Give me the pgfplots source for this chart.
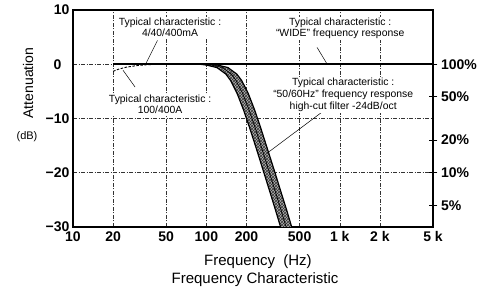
\documentclass[border=0pt]{standalone}
\usepackage{fontspec}
\setmainfont{Liberation Sans}
\usepackage{pgfplots}
\pgfplotsset{compat=1.18}
\usetikzlibrary{patterns}
\begin{document}
\begin{tikzpicture}[x=1pt,y=1pt]
\useasboundingbox (-73,-64) rectangle (414,227);
\begin{axis}[
  at={(0,0)}, anchor=south west,
  scale only axis, width=360pt, height=217pt,
  xmode=log, xmin=10, xmax=5000, ymin=-30, ymax=10,
  xtick={10,20,50,100,200,500,1000,2000,5000},
  xticklabels={10,20,50,100,200,500,1 k,2 k,5 k},
  ytick={-30,-20,-10,0,10},
  yticklabels={−30,−20,−10,0\kern8pt,10},
  major tick length=0pt, minor tick length=0pt,
  grid=major,
  grid style={black!80, line width=0.5pt, dash pattern=on 4pt off 1.5pt on 1pt off 1.5pt},
  axis line style={line width=1.2pt},
  ticklabel style={font=\fontsize{14}{15}\selectfont\bfseries},
  /pgf/number format/assume math mode=true,
  xticklabel style={yshift=-1pt},
  clip=true,
]
% band fill: lower edge then upper edge reversed
\addplot[fill=black!30, draw=none] coordinates {(90,0) (100,-0.15) (120,-0.61) (140,-1.81) (152,-3.01) (170,-5.38) (190,-8.43) (210,-11.55) (240,-15.98) (270,-20) (300,-23.6) (330,-26.9) (360,-30) (375,-31.5) (455,-31.5) (436,-30) (400,-26.9) (363,-23.6) (327,-20) (290,-15.98) (254,-11.55) (230,-8.43) (206,-5.38) (184,-3.01) (169,-1.81) (145,-0.61) (121,-0.15) (100,0)} -- cycle;
\addplot[pattern=crosshatch, pattern color=black!80, draw=none] coordinates {(90,0) (100,-0.15) (120,-0.61) (140,-1.81) (152,-3.01) (170,-5.38) (190,-8.43) (210,-11.55) (240,-15.98) (270,-20) (300,-23.6) (330,-26.9) (360,-30) (375,-31.5) (455,-31.5) (436,-30) (400,-26.9) (363,-23.6) (327,-20) (290,-15.98) (254,-11.55) (230,-8.43) (206,-5.38) (184,-3.01) (169,-1.81) (145,-0.61) (121,-0.15) (100,0)} -- cycle;
% flat responses
\addplot[black, line width=1.8pt] coordinates {(20,0) (5000,0)};
\addplot[black, line width=0.9pt, dash pattern=on 2.5pt off 1.5pt] coordinates {(20,-1.3) (22,-0.9) (25,-0.55) (30,-0.25) (36,-0.08) (45,0)};
% 50/60Hz high-cut band
\addplot[black, line width=1.2pt] coordinates {(90,0) (100,-0.15) (120,-0.61) (140,-1.81) (152,-3.01) (170,-5.38) (190,-8.43) (210,-11.55) (240,-15.98) (270,-20) (300,-23.6) (330,-26.9) (360,-30) (375,-31.5)};
\addplot[black, line width=1.2pt] coordinates {(100,0) (121,-0.15) (145,-0.61) (169,-1.81) (184,-3.01) (206,-5.38) (230,-8.43) (254,-11.55) (290,-15.98) (327,-20) (363,-23.6) (400,-26.9) (436,-30) (455,-31.5)};
\addplot[black, line width=0.7pt] coordinates {(95,0) (110,-0.15) (132,-0.61) (154,-1.81) (167,-3.01) (187,-5.38) (209,-8.43) (231,-11.55) (264,-15.98) (297,-20) (330,-23.6) (363,-26.9) (396,-30) (413,-31.5)};
% annotations
\draw[line width=0.5pt] (axis cs:43,4.4) -- (axis cs:35,0);
\draw[line width=0.5pt] (axis cs:29.2,-4.2) -- (axis cs:23.7,-1.1);
\draw[line width=0.5pt] (axis cs:676,3.1) -- (axis cs:805,0);
\draw[line width=0.5pt] (axis cs:738,-8.8) -- (axis cs:285,-16.4);
\node[fill=white, inner sep=1pt, align=center, font=\fontsize{10.4}{11.5}\selectfont] at (axis cs:53.4,6.8) {Typical characteristic :\\4/40/400mA};
\node[fill=white, inner sep=1pt, align=center, font=\fontsize{10.4}{11.5}\selectfont] at (axis cs:45,-7.4) {Typical characteristic :\\100/400A};
\node[fill=white, inner sep=1pt, align=center, font=\fontsize{10.4}{11.5}\selectfont] at (axis cs:1007,6.6) {Typical characteristic :\\“WIDE” frequency response};
\node[fill=white, inner sep=1pt, align=center, font=\fontsize{10.4}{12}\selectfont] at (axis cs:1061,-5.7) {Typical characteristic :\\“50/60Hz” frequency response\\high-cut filter -24dB/oct};
\end{axis}
\begin{axis}[
  at={(0,0)}, anchor=south west,
  scale only axis, width=360pt, height=217pt,
  xmode=log, xmin=10, xmax=5000, ymin=-30, ymax=10,
  axis x line=none, axis y line*=right,
  ytick={0,-6.02,-13.98,-20,-26.02},
  yticklabels={100\%,50\%,20\%,10\%,5\%},
  tick align=center, major tick length=9pt,
  tick style={line width=0.9pt, black},
  axis line style={line width=1.2pt},
  ticklabel style={font=\fontsize{14}{15}\selectfont\bfseries},
  yticklabel style={xshift=0pt},
]
\addplot[draw=none] coordinates {(100,0) (200,-5)};
\end{axis}
\node[rotate=90, font=\fontsize{14}{16}\selectfont] at (-45,144) {Attenuation};
\node[font=\fontsize{11}{12}\selectfont] at (-46,90) {(dB)};
\node[font=\fontsize{15}{17}\selectfont] at (185,-35) {Frequency\ \ (Hz)};
\node[font=\fontsize{15}{17}\selectfont] at (182,-53) {Frequency Characteristic};
\end{tikzpicture}
\end{document}
